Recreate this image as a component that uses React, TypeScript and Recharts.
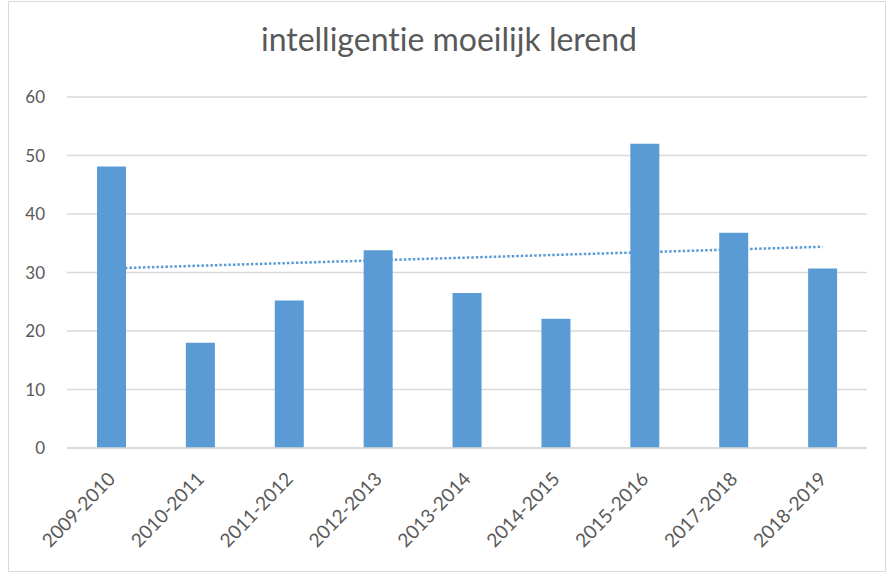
import React from 'react';
import {
  ComposedChart,
  Bar,
  Line,
  XAxis,
  YAxis,
  CartesianGrid,
} from 'recharts';

const years = [
  '2009-2010', '2010-2011', '2011-2012', '2012-2013', '2013-2014',
  '2014-2015', '2015-2016', '2017-2018', '2018-2019',
];
const values = [48.1, 18, 25.2, 33.8, 26.5, 22.1, 52, 36.8, 30.7];
// linear trendline end points
const trend = [30.7, null, null, null, null, null, null, null, 34.4];
const yTicks = [0, 10, 20, 30, 40, 50, 60];

const data = years.map((year, i) => ({ year, value: values[i], trend: trend[i] }));

const textColor = '#595959';
const barColor = '#5B9BD5';
const gridColor = '#D9D9D9';
const font = 'Lato, "Open Sans", sans-serif';

const AngledTick = ({ x, y, payload }: any) => (
  <g transform={`translate(${x + 5},${y + 24})`}>
    <text
      x={0}
      y={0}
      textAnchor="end"
      transform="rotate(-46)"
      fill={textColor}
      fontSize={19}
      fontFamily={font}
    >
      {payload.value}
    </text>
  </g>
);

export default function App() {
  return (
    <div
      style={{
        position: 'absolute',
        left: 0,
        top: 0,
        width: 890,
        height: 574,
        background: '#fff',
      }}
    >
      <div
        style={{
          position: 'absolute',
          left: 8,
          top: 1,
          width: 878,
          height: 571,
          border: '1px solid #D9D9D9',
          boxSizing: 'border-box',
        }}
      />
      <svg width={890} height={60} style={{ position: 'absolute', left: 0, top: 0 }}>
        <text
          x={449}
          y={51}
          textAnchor="middle"
          fill={textColor}
          fontSize={32}
          fontFamily={font}
          style={{ fontVariantLigatures: 'none' }}
        >
          intelligentie moeilijk lerend
        </text>
      </svg>
      <div style={{ position: 'absolute', left: 0, top: 0 }}>
        <ComposedChart
          width={890}
          height={574}
          data={data}
          margin={{ top: 97, right: 23, left: 0, bottom: 0 }}
        >
          <CartesianGrid vertical={false} stroke={gridColor} strokeWidth={1.5} />
          <XAxis
            dataKey="year"
            axisLine={{ stroke: gridColor, strokeWidth: 1.5 }}
            tickLine={false}
            interval={0}
            height={126}
            tick={<AngledTick />}
          />
          <YAxis
            width={67}
            domain={[0, 60]}
            ticks={yTicks}
            axisLine={false}
            tickLine={false}
            tickMargin={16}
            tick={{ fill: textColor, fontSize: 17, fontFamily: font }}
          />
          <Line
            dataKey="trend"
            type="linear"
            connectNulls
            stroke={barColor}
            strokeWidth={2.5}
            strokeDasharray="2.5 2"
            dot={false}
            isAnimationActive={false}
          />
          <Bar dataKey="value" fill={barColor} barSize={29} isAnimationActive={false} />
        </ComposedChart>
      </div>
    </div>
  );
}
